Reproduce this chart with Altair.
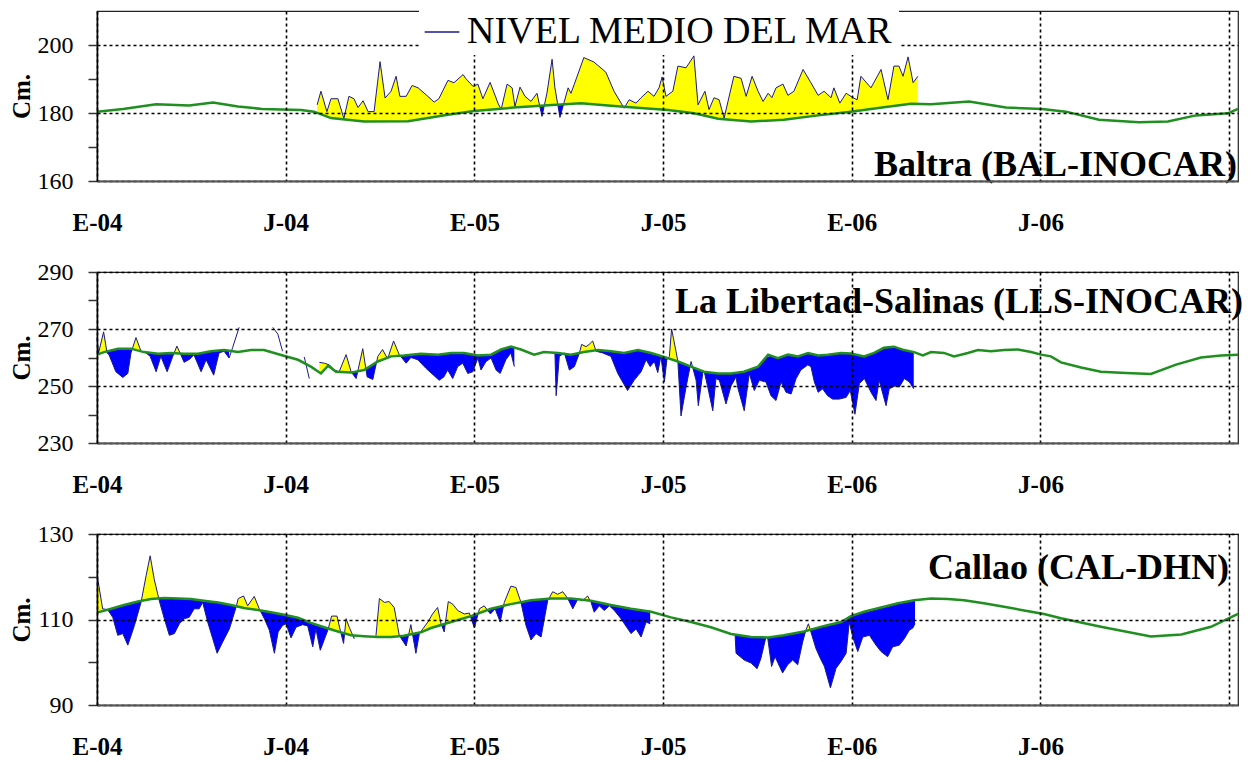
import altair as alt
import numpy as np
import pandas as pd

FONT = "Liberation Serif"
LEGEND_LABEL = "NIVEL MEDIO DEL MAR"
STATIONS = ["Baltra (BAL-INOCAR)", "La Libertad-Salinas (LLS-INOCAR)", "Callao (CAL-DHN)"]

# time axis: months since January 2004 (E-04)
X_TICKS = [0, 6, 12, 18, 24, 30, 36]
X_MAX = 36.28

# ---------------- Baltra ----------------
BAL_SEG_T = [[7.00, 7.12, 7.31, 7.44, 7.66, 7.85, 8.01, 8.17, 8.30, 8.46,
              8.62, 8.81, 9.00, 9.16, 9.35, 9.51, 9.63, 9.83, 10.02, 10.21,
              10.52, 10.72, 10.87, 11.16, 11.35, 11.64, 11.73, 11.96, 12.11, 12.27,
              12.50, 12.75, 12.85, 13.04, 13.20, 13.29, 13.45, 13.61, 13.80, 13.99,
              14.15, 14.31, 14.47, 14.56, 14.72, 14.98, 15.07, 15.17, 15.48, 15.80,
              16.18, 16.44, 16.76, 16.92, 17.14, 17.30, 17.52, 17.71, 17.87, 17.97,
              18.09, 18.31, 18.47, 18.73, 18.98, 19.11, 19.33, 19.46, 19.62, 19.78,
              19.94, 20.25, 20.48, 20.64, 20.83, 21.02, 21.18, 21.34, 21.46, 21.59,
              21.81, 21.97, 22.16, 22.45, 22.70, 22.93, 23.12, 23.34, 23.43, 23.62,
              23.82, 24.04, 24.17, 24.29, 24.61, 24.93, 25.15, 25.34, 25.50, 25.63,
              25.79, 25.95, 26.10]]
BAL_SEG_V = [[182.4, 186.4, 180.4, 184.2, 184.2, 178.4, 184.9, 184.2, 181.6, 183.6,
              180.4, 180.4, 195.1, 184.4, 186.4, 190.8, 184.9, 184.9, 188.1, 187.4,
              184.9, 183.2, 184.2, 189.6, 188.9, 191.3, 190.1, 187.8, 188.5, 184.2,
              189.0, 182.9, 181.0, 188.5, 187.4, 181.9, 187.6, 184.9, 183.4, 185.8,
              179.0, 186.0, 195.8, 187.4, 178.7, 187.4, 185.8, 188.3, 196.3, 195.0,
              192.0, 186.4, 181.4, 183.9, 182.9, 184.5, 186.4, 184.9, 187.4, 190.6,
              184.9, 186.4, 193.8, 193.3, 196.8, 182.4, 186.4, 181.0, 184.5, 183.9,
              178.5, 190.8, 190.2, 184.9, 190.8, 186.4, 183.4, 185.8, 184.5, 187.4,
              188.5, 185.2, 186.4, 192.8, 188.9, 185.2, 186.4, 184.5, 187.4, 182.9,
              185.8, 184.5, 183.9, 190.8, 187.4, 192.8, 183.9, 193.8, 193.8, 190.8,
              196.5, 188.9, 190.8]]
BAL_MEAN_T = [0.00, 0.83, 1.88, 2.93, 3.69, 4.48, 5.25, 6.49, 6.90, 7.44,
              8.49, 9.89, 11.16, 11.99, 13.26, 14.34, 15.39, 16.34, 17.07, 18.16,
              18.98, 19.75, 20.80, 21.84, 22.93, 23.97, 25.02, 25.88, 26.52, 27.73,
              28.90, 30.05, 30.81, 31.86, 33.13, 34.05, 34.94, 35.96, 36.28]
BAL_MEAN_V = [180.4, 181.2, 182.6, 182.2, 183.1, 181.9, 181.2, 180.9, 180.4, 178.5,
              177.5, 177.6, 179.5, 180.6, 181.6, 182.3, 182.9, 182.1, 181.6, 180.9,
              179.9, 178.3, 177.5, 178.0, 179.3, 180.4, 181.7, 182.7, 182.6, 183.4,
              181.6, 181.2, 180.4, 178.0, 177.3, 177.5, 179.3, 179.9, 181.2]

# ---------------- La Libertad-Salinas ----------------
LLS_SEG_T = [
    [0.00, 0.05, 0.21, 0.32, 0.38, 0.60, 0.82, 0.98, 1.08, 1.24,
     1.40, 1.56, 1.69, 1.88, 2.03, 2.23, 2.41, 2.54, 2.64, 2.77,
     2.96, 3.08, 3.31, 3.47, 3.71, 3.88, 4.04, 4.20, 4.31, 4.52],
    [5.59, 5.75, 5.90],
    [6.59, 6.75],
    [7.07, 7.23, 7.39, 7.55, 7.70, 7.92, 8.08, 8.24, 8.45, 8.59,
     8.77, 8.93, 9.08, 9.24, 9.43, 9.61, 9.83, 9.98, 10.20, 10.46,
     10.88, 11.03, 11.15, 11.31, 11.47, 11.63, 11.79, 11.95, 12.11, 12.21,
     12.37, 12.53, 12.69, 12.82, 13.00, 13.16, 13.27],
    [14.56, 14.60, 14.70, 14.86, 15.02, 15.18, 15.34, 15.41, 15.55, 15.65,
     15.76, 15.87, 16.08, 16.34, 16.56, 16.87, 17.08, 17.30, 17.46, 17.59,
     17.72, 17.83, 17.93, 18.04, 18.12, 18.20, 18.27, 18.41, 18.47, 18.57,
     18.73, 18.89, 19.05, 19.12, 19.26, 19.31, 19.42, 19.58, 19.68, 19.79,
     20.00, 20.16, 20.32, 20.37, 20.58, 20.74, 20.90, 21.06, 21.27, 21.43,
     21.59, 21.75, 21.91, 22.07, 22.23, 22.38, 22.60, 22.70, 22.81, 22.93,
     23.07, 23.23, 23.39, 23.60, 23.82, 23.95, 24.10, 24.24, 24.40, 24.61,
     24.77, 24.87, 25.09, 25.19, 25.41, 25.51, 25.67, 25.83, 25.97],
]
LLS_SEG_V = [
    [267.0, 261.6, 269.0, 261.6, 261.0, 255.0, 253.0, 254.4, 261.6, 267.0,
     262.2, 261.6, 260.4, 255.0, 260.4, 255.0, 260.4, 264.0, 261.6, 258.3,
     259.5, 261.0, 255.0, 259.2, 253.8, 261.6, 262.2, 259.8, 263.4, 270.6],
    [270.6, 268.2, 262.2],
    [260.2, 252.6],
    [258.3, 258.0, 257.4, 255.6, 255.0, 261.0, 255.0, 252.6, 263.1, 253.2,
     252.3, 260.4, 262.8, 259.5, 265.8, 261.0, 258.0, 260.0, 259.2, 256.2,
     252.0, 253.2, 255.6, 252.6, 256.8, 258.0, 254.4, 255.0, 259.8, 255.6,
     258.6, 259.8, 255.6, 254.4, 259.2, 261.6, 256.8],
    [261.6, 246.6, 260.4, 261.6, 255.6, 256.8, 261.6, 264.6, 263.8, 264.6,
     265.8, 262.2, 261.6, 260.4, 254.4, 248.4, 252.0, 255.0, 259.2, 256.8,
     258.6, 254.7, 260.4, 251.4, 259.2, 260.4, 270.0, 262.2, 258.6, 239.5,
     249.6, 258.6, 252.0, 243.1, 254.4, 255.0, 249.6, 241.3, 252.6, 252.0,
     243.7, 250.0, 253.2, 249.6, 241.3, 254.4, 248.4, 252.0, 251.4, 246.6,
     244.9, 251.4, 247.8, 247.2, 252.6, 255.6, 257.4, 256.8, 251.4, 247.8,
     249.0, 246.6, 245.4, 245.4, 246.0, 248.4, 240.1, 250.8, 252.6, 247.8,
     244.9, 252.0, 243.1, 249.0, 250.2, 249.6, 252.6, 251.4, 249.0],
]
LLS_NOFILL = (4.21, 6.90)  # stretch drawn as a bare line in the original
LLS_MEAN_T = [0.00, 0.22, 0.67, 1.08, 1.49, 1.94, 2.35, 2.77, 3.21, 3.62,
              4.04, 4.48, 4.90, 5.31, 5.91, 6.39, 6.80, 7.12, 7.35, 7.60,
              8.08, 8.49, 8.93, 9.35, 9.76, 10.30, 10.84, 11.26, 11.67, 12.11,
              12.53, 12.85, 13.16, 13.48, 13.90, 14.21, 14.66, 15.07, 15.48, 15.93,
              16.34, 16.76, 17.20, 17.62, 18.03, 18.47, 18.89, 19.30, 19.75, 20.16,
              20.57, 21.02, 21.34, 21.65, 21.97, 22.29, 22.61, 22.93, 23.24, 23.66,
              23.97, 24.39, 24.71, 25.02, 25.34, 25.66, 25.98, 26.26, 26.52, 26.93,
              27.25, 27.69, 28.01, 28.43, 28.84, 29.28, 29.70, 30.02, 30.33, 30.65,
              31.29, 31.92, 32.72, 33.51, 34.31, 35.10, 35.74, 36.28]
LLS_MEAN_V = [261.0, 261.9, 263.1, 263.1, 261.9, 261.3, 261.6, 261.3, 261.3, 262.2,
              262.6, 261.9, 262.6, 262.6, 260.7, 259.2, 256.8, 254.4, 257.1, 255.0,
              254.7, 255.6, 258.6, 260.4, 260.7, 261.3, 261.0, 261.6, 261.6, 260.7,
              261.0, 262.8, 263.8, 262.8, 261.0, 261.9, 261.6, 261.0, 261.9, 262.6,
              262.2, 261.6, 262.6, 261.6, 260.2, 258.6, 256.8, 255.0, 254.4, 254.4,
              255.0, 256.8, 261.0, 259.8, 261.0, 260.4, 261.6, 260.7, 261.0, 261.6,
              261.4, 260.4, 261.6, 263.4, 263.8, 262.6, 261.9, 260.7, 261.9, 261.6,
              260.4, 261.6, 262.6, 262.2, 262.6, 262.8, 261.9, 261.0, 260.4, 258.3,
              256.5, 255.0, 254.6, 254.2, 257.5, 260.0, 260.7, 261.0]

# ---------------- Callao ----------------
CAL_SEG_T = [
    [0.00, 0.18, 0.34, 0.50, 0.66, 0.82, 0.98, 1.19, 1.40, 1.56,
     1.69, 1.82, 1.98, 2.14, 2.30, 2.46, 2.62, 2.78, 2.93, 3.09,
     3.25, 3.36, 3.52, 3.68, 3.82, 4.00, 4.21, 4.42, 4.49, 4.66,
     4.79, 5.00, 5.16, 5.32, 5.48, 5.64, 5.76, 5.90, 6.01, 6.17,
     6.33, 6.54, 6.70, 6.86, 6.96, 7.10, 7.34, 7.46, 7.63, 7.76,
     7.84, 7.92, 8.02, 8.18],
    [8.87, 8.98, 9.14, 9.29, 9.45, 9.61, 9.83, 9.98, 10.14, 10.25,
     10.36, 10.52, 10.67, 10.83, 10.94, 11.04, 11.17, 11.31, 11.47, 11.68,
     11.84, 12.00, 12.16, 12.31, 12.51, 12.66, 12.82, 12.95, 13.16, 13.32,
     13.48, 13.64, 13.80, 13.96, 14.12, 14.33, 14.49, 14.65, 14.81, 14.97,
     15.13, 15.29, 15.44, 15.60, 15.71, 15.81, 15.97, 16.13, 16.29, 16.45,
     16.66, 16.98, 17.14, 17.30, 17.46, 17.59],
    [20.29, 20.32, 20.58, 20.80, 20.99, 21.11, 21.27, 21.33, 21.45, 21.56,
     21.80, 21.96, 22.12, 22.28, 22.44, 22.54, 22.62, 22.70, 22.86, 23.00,
     23.13, 23.32, 23.50, 23.66, 23.82, 23.92, 24.03, 24.19, 24.35, 24.56,
     24.77, 24.93, 25.14, 25.30, 25.51, 25.67, 25.83, 25.94, 26.01],
]
CAL_SEG_V = [
    [120.5, 112.5, 112.3, 110.5, 106.3, 106.7, 104.0, 108.6, 114.0, 120.2,
     124.9, 119.4, 114.4, 110.2, 106.3, 106.7, 109.0, 110.2, 110.5, 112.5,
     112.5, 114.0, 109.4, 105.5, 102.1, 104.8, 107.8, 112.8, 114.9, 115.5,
     113.2, 115.4, 112.5, 110.2, 107.5, 102.1, 107.1, 108.6, 109.0, 105.7,
     108.2, 108.8, 108.5, 103.6, 107.8, 102.8, 107.5, 110.8, 110.8, 106.7,
     104.4, 110.2, 108.2, 105.5],
    [106.2, 114.9, 114.0, 114.2, 112.8, 106.3, 103.8, 108.8, 102.1, 106.7,
     107.8, 109.4, 111.3, 112.8, 109.0, 107.1, 114.2, 113.6, 112.1, 111.3,
     111.5, 108.0, 112.5, 113.2, 111.3, 112.5, 109.4, 114.0, 117.8, 117.5,
     114.0, 108.6, 105.2, 106.7, 105.9, 114.4, 116.5, 115.9, 116.5, 114.9,
     112.5, 114.8, 114.4, 115.5, 114.0, 111.7, 113.2, 112.1, 113.2, 112.1,
     110.2, 106.7, 107.8, 105.9, 109.4, 109.0],
    [106.3, 102.1, 100.5, 99.8, 98.5, 100.9, 105.9, 105.5, 99.0, 101.3,
     97.5, 99.4, 100.5, 99.4, 104.8, 107.5, 109.0, 107.1, 103.2, 100.9,
     99.0, 94.0, 98.6, 100.2, 102.1, 109.4, 105.9, 102.5, 105.9, 106.3,
     104.0, 102.5, 101.3, 103.6, 104.0, 105.5, 107.5, 108.0, 109.0],
]
CAL_MEAN_T = [0.00, 0.45, 0.86, 1.30, 1.72, 2.13, 2.58, 2.99, 3.40, 3.85,
              4.26, 4.67, 5.12, 5.53, 5.95, 6.39, 6.80, 7.22, 7.66, 8.08,
              8.49, 8.93, 9.35, 9.76, 10.30, 10.62, 11.26, 11.89, 12.53, 13.16,
              13.80, 14.44, 15.07, 15.71, 16.34, 16.98, 17.62, 18.25, 18.89, 19.52,
              20.16, 20.80, 21.34, 21.84, 22.48, 23.13, 23.66, 23.97, 24.39, 24.93,
              25.47, 25.98, 26.52, 27.06, 27.57, 28.20, 28.84, 29.48, 30.11, 30.65,
              31.92, 33.51, 34.48, 35.42, 36.28]
CAL_MEAN_V = [111.6, 112.5, 113.4, 114.2, 114.8, 115.0, 114.9, 114.8, 114.4, 114.0,
              113.4, 112.7, 112.2, 111.7, 111.1, 110.4, 109.2, 108.2, 107.2, 106.3,
              106.1, 105.9, 105.9, 106.2, 107.0, 108.0, 109.4, 110.8, 112.5, 113.6,
              114.5, 114.9, 114.9, 114.4, 113.4, 112.5, 111.8, 110.5, 109.4, 108.2,
              106.6, 105.9, 105.8, 106.3, 107.2, 108.5, 109.4, 110.8, 111.8, 112.8,
              113.8, 114.5, 114.9, 114.8, 114.5, 113.8, 113.0, 112.1, 111.3, 110.3,
              108.3, 106.0, 106.5, 108.3, 111.3]

Y_DOMAINS = [[160, 210], [230, 290], [90, 130]]
Y_TICKS = [[160, 170, 180, 190, 200], [230, 240, 250, 260, 270, 280, 290],
           [90, 100, 110, 120, 130]]
Y_LABEL_TEST = ["datum.value % 20 == 0", "datum.value % 20 == 10", "datum.value % 20 == 10"]

YELLOW = "#FFFF00"
BLUE = "#0000FF"
OBS_COLOR = "#1a1a8a"
GREEN = "#1f8f1f"


def obs_frame(seg_t, seg_v):
    rows = []
    for k, (ts, vs) in enumerate(zip(seg_t, seg_v)):
        for t, v in zip(ts, vs):
            rows.append({"seg": k, "t": t, "v": v, "serie": LEGEND_LABEL})
    return pd.DataFrame(rows)


def fill_frame(seg_t, seg_v, mean_t, mean_v, nofill=None):
    rows = []
    for k, (ts, vs) in enumerate(zip(seg_t, seg_v)):
        pts = [(t, v) for t, v in zip(ts, vs)
               if nofill is None or not (nofill[0] < t < nofill[1])]
        if len(pts) < 2:
            continue
        ta = np.array([p[0] for p in pts])
        va = np.array([p[1] for p in pts])
        ma = np.interp(ta, mean_t, mean_v)
        for i in range(len(ta)):
            if i > 0:
                d0 = va[i - 1] - ma[i - 1]
                d1 = va[i] - ma[i]
                if d0 * d1 < 0:
                    f = d0 / (d0 - d1)
                    tc = ta[i - 1] + f * (ta[i] - ta[i - 1])
                    mc = ma[i - 1] + f * (ma[i] - ma[i - 1])
                    rows.append((k, tc, mc, mc))
            rows.append((k, ta[i], va[i], ma[i]))
    df = pd.DataFrame(rows, columns=["seg", "t", "obs", "mean"])
    df["up"] = df[["obs", "mean"]].max(axis=1)
    df["lo"] = df[["obs", "mean"]].min(axis=1)
    return df


def x_enc():
    return alt.X(
        "t:Q",
        scale=alt.Scale(domain=[0, X_MAX], nice=False, zero=False),
        axis=alt.Axis(
            values=X_TICKS,
            labelExpr="datum.value >= 36 ? '' : ((datum.value % 12 == 0) ? 'E-0' : 'J-0') + (4 + floor(datum.value / 12))",
            ticks=False, tickSize=0, labelPadding=29,
            labelFont=FONT, labelFontSize=25, labelFontWeight="bold", labelColor="black",
            labelFlush=False, labelOverlap=False,
            title=None,
            grid=True, gridColor="black", gridDash=[3, 3], gridWidth=1.6,
            domainColor="#555555", domainWidth=2, zindex=1,
        ),
    )


def y_enc(field, i):
    return alt.Y(
        field,
        scale=alt.Scale(domain=Y_DOMAINS[i], nice=False, zero=False),
        axis=alt.Axis(
            values=Y_TICKS[i],
            labelExpr=f"({Y_LABEL_TEST[i]}) ? datum.label : ''",
            tickSize=9, tickColor="#333333", tickWidth=1.5,
            labelPadding=15, labelFont=FONT, labelFontSize=24, labelColor="black",
            labelOverlap=False, labelFlush=False,
            title="Cm.", titleFont=FONT, titleFontSize=25, titleFontWeight="bold",
            titleColor="black", titlePadding=3,
            grid=True, gridColor="black", gridDash=[3, 3], gridWidth=1.6,
            gridOpacity={"condition": {"test": Y_LABEL_TEST[i], "value": 1}, "value": 0},
            domainColor="black", domainWidth=1.5, zindex=1,
        ),
    )


def panel(i, seg_t, seg_v, mean_t, mean_v, title_xy, height, nofill=None, legend=False):
    fills = fill_frame(seg_t, seg_v, mean_t, mean_v, nofill)
    obs = obs_frame(seg_t, seg_v)
    mean = pd.DataFrame({"t": mean_t, "m": mean_v})

    yellow = alt.Chart(fills).mark_area(color=YELLOW, opacity=1).encode(
        x=x_enc(), y=y_enc("up:Q", i), y2="mean:Q", detail="seg:N")
    blue = alt.Chart(fills).mark_area(color=BLUE, opacity=1).encode(
        x=x_enc(), y=y_enc("lo:Q", i), y2="mean:Q", detail="seg:N")

    if legend:
        color = alt.Color(
            "serie:N",
            scale=alt.Scale(domain=[LEGEND_LABEL], range=[OBS_COLOR]),
            legend=alt.Legend(
                title=None, orient="none", legendX=322, legendY=-2,
                fillColor="white", padding=4, zindex=2,
                symbolType="stroke", symbolSize=1200, symbolStrokeWidth=1.5,
                labelFont=FONT, labelFontSize=38, labelColor="black",
                labelLimit=0, labelOffset=6,
            ),
        )
    else:
        color = alt.value(OBS_COLOR)
    line = alt.Chart(obs).mark_line(strokeWidth=1).encode(
        x=x_enc(), y=y_enc("v:Q", i), detail="seg:N", color=color)

    green = alt.Chart(mean).mark_line(color=GREEN, strokeWidth=2.5).encode(
        x=x_enc(), y=y_enc("m:Q", i))

    name = alt.Chart(pd.DataFrame({"name": [STATIONS[i]]})).mark_text(
        font=FONT, fontSize=36, fontWeight="bold", align="right",
        baseline="alphabetic", color="black",
    ).encode(x=alt.value(title_xy[0]), y=alt.value(title_xy[1]), text="name:N")

    return alt.layer(yellow, blue, line, green, name).properties(width=1141, height=height)


p1 = panel(0, BAL_SEG_T, BAL_SEG_V, BAL_MEAN_T, BAL_MEAN_V, (1140, 165), 170, legend=True)
p2 = panel(1, LLS_SEG_T, LLS_SEG_V, LLS_MEAN_T, LLS_MEAN_V, (1146, 41), 171, nofill=LLS_NOFILL)
p3 = panel(2, CAL_SEG_T, CAL_SEG_V, CAL_MEAN_T, CAL_MEAN_V, (1132, 45), 171)

chart = (
    alt.vconcat(p1, p2, p3, spacing=23)
    .resolve_scale(color="independent")
    .resolve_legend(color="independent")
    .properties(padding={"top": 0, "left": 0, "right": 0, "bottom": 0}, background="white")
    .configure_view(stroke="#222222", strokeWidth=1.2)
)

chart.save("out.html", embed_options={"renderer": "svg", "actions": False})
